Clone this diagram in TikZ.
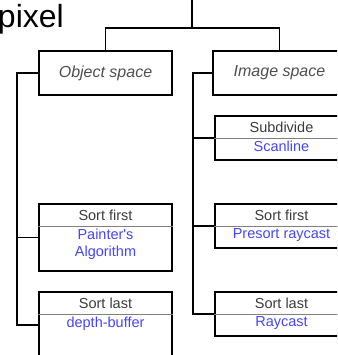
\documentclass[tikz,border=0pt]{standalone}
\usepackage{fontspec}
\setmainfont{Liberation Sans}
\usepackage{tikz}
\usetikzlibrary{positioning,calc}

\definecolor{headgray}{HTML}{3A3A3A}
\definecolor{namegray}{HTML}{4E4E4E}
\definecolor{algblue}{HTML}{4646F0}

\begin{document}
\begin{tikzpicture}[
    x=1pt, y=-1pt,
    space/.style={
        draw,
        line width=1.8pt,
        minimum width=133pt,
        minimum height=44pt,
        inner sep=0pt,
        text=namegray,
        font=\fontsize{16}{19}\selectfont\itshape
    },
    cell/.style={
        draw,
        line width=1.8pt,
        minimum width=133pt,
        inner sep=0pt
    },
    headtext/.style={
        inner sep=0pt,
        text=headgray,
        font=\fontsize{14.5}{17}\selectfont
    },
    bodytext/.style={
        anchor=north,
        inner sep=2.5pt,
        align=center,
        text=algblue,
        font=\fontsize{14.5}{17}\selectfont
    },
    divider/.style={line width=0.8pt, gray},
    conn/.style={line width=1.6pt, black}
]

\useasboundingbox (0,0) rectangle (337,355);
\clip (0,0) rectangle (337,355);

% ============================================================
% Title fragment and top split
% ============================================================

\node[
    anchor=base east,
    inner sep=0pt,
    font=\fontsize{32}{36}\selectfont
] (title) at (64,27.5) {pixel};

\coordinate (top) at (192,0);
\coordinate (split) at (192,28);

% ============================================================
% Object space / image space
% ============================================================

\node[space] (obj) at (105.5,73) {Object space};
\node[space] (img) at (279.5,73) {Image space};

\draw[conn] (top) -- (split);
\draw[conn] (obj.north) -- (obj.north |- split)
    -- (img.north |- split) -- (img.north);

% spines
\coordinate (ospine) at (17,0);
\coordinate (ispine) at (193,0);

% ============================================================
% Object space algorithms
% ============================================================

\node[cell, minimum height=67pt] (painter) at (105.5,237.5) {};
\draw[divider] ([yshift=-23pt]painter.north west)
    -- ([yshift=-23pt]painter.north east);
\node[headtext] (painterhead) at ([yshift=-12.5pt]painter.north)
    {Sort first};
\node[bodytext] (painterbody) at ([yshift=-23pt]painter.north)
    {Painter\textquotesingle s\\Algorithm};

\node[cell, minimum height=66pt] (depth) at (105.5,325) {};
\draw[divider] ([yshift=-23pt]depth.north west)
    -- ([yshift=-23pt]depth.north east);
\node[headtext] (depthhead) at ([yshift=-12.5pt]depth.north)
    {Sort last};
\node[bodytext] (depthbody) at ([yshift=-23pt]depth.north)
    {depth-buffer};

\draw[conn] (obj.west) -- (obj.west -| ospine) |- (depth.west);
\draw[conn] (painter.west) -- (painter.west -| ospine);

% ============================================================
% Image space algorithms
% ============================================================

\node[cell, minimum height=44pt] (scan) at (281.5,138) {};
\draw[divider] ([yshift=-23pt]scan.north west)
    -- ([yshift=-23pt]scan.north east);
\node[headtext] (scanhead) at ([yshift=-12.5pt]scan.north)
    {Subdivide};
\node[bodytext] (scanbody) at ([yshift=-23pt]scan.north)
    {Scanline};

\node[cell, minimum height=44pt] (presort) at (281.5,226) {};
\draw[divider] ([yshift=-23pt]presort.north west)
    -- ([yshift=-23pt]presort.north east);
\node[headtext] (presorthead) at ([yshift=-12.5pt]presort.north)
    {Sort first};
\node[bodytext] (presortbody) at ([yshift=-23pt]presort.north)
    {Presort raycast};

\node[cell, minimum height=44pt] (ray) at (281.5,314) {};
\draw[divider] ([yshift=-23pt]ray.north west)
    -- ([yshift=-23pt]ray.north east);
\node[headtext] (rayhead) at ([yshift=-12.5pt]ray.north)
    {Sort last};
\node[bodytext] (raybody) at ([yshift=-23pt]ray.north)
    {Raycast};

\draw[conn] (img.west) -- (img.west -| ispine) |- (ray.west);
\draw[conn] (scan.west) -- (scan.west -| ispine);
\draw[conn] (presort.west) -- (presort.west -| ispine);

\end{tikzpicture}
\end{document}
